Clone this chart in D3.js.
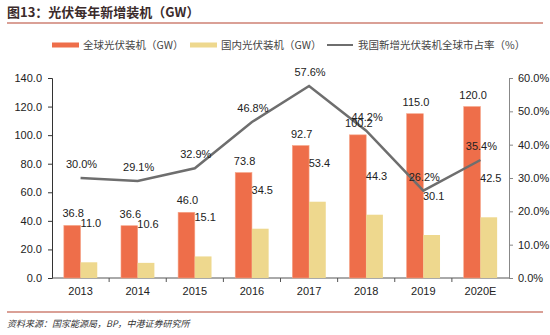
<!DOCTYPE html>
<html>
<head>
<meta charset="utf-8">
<script src="https://cdn.jsdelivr.net/npm/d3@7"></script>
<style>
  body { margin: 0; background: #fff; }
  svg { font-family: "Liberation Sans", Arial, "Noto Sans CJK SC", sans-serif; }
</style>
</head>
<body>
<svg id="chart" width="550" height="335"></svg>
<script>
const years = ["2013", "2014", "2015", "2016", "2017", "2018", "2019", "2020E"];
const globalGW = [36.8, 36.6, 46.0, 73.8, 92.7, 100.2, 115.0, 120.0];
const chinaGW = [11.0, 10.6, 15.1, 34.5, 53.4, 44.3, 30.1, 42.5];
const chinaShare = [30.0, 29.1, 32.9, 46.8, 57.6, 44.2, 26.2, 35.4];
const leftTicks = [0, 20, 40, 60, 80, 100, 120, 140];
const rightTicks = [0, 10, 20, 30, 40, 50, 60];
const seriesNames = ["全球光伏装机（GW）", "国内光伏装机（GW）", "我国新增光伏装机全球市占率（%）"];

const orange = "#ee6e4a";
const yellow = "#eed88e";
const grey = "#6e6e6e";
const cjk = "'Noto Sans CJK SC', sans-serif";

let svg = d3.select("#chart");

const plotLeft = 52;
const plotRight = 509;
const plotTop = 78;
const plotBottom = 278;

// title + rules
svg
  .append("text")
  .text("图13：光伏每年新增装机（GW）")
  .attr("x", 7)
  .attr("y", 17)
  .attr("font-family", cjk)
  .attr("font-size", 13)
  .attr("font-weight", "bold")
  .attr("fill", "#3b2b2b");
svg
  .append("line")
  .attr("x1", 7)
  .attr("x2", 543)
  .attr("y1", 23)
  .attr("y2", 23)
  .attr("stroke", "#b5432e")
  .attr("stroke-width", 1.2);
svg
  .append("line")
  .attr("x1", 7)
  .attr("x2", 543)
  .attr("y1", 312)
  .attr("y2", 312)
  .attr("stroke", "#b5432e")
  .attr("stroke-width", 1.2);
svg
  .append("text")
  .text("资料来源：国家能源局，BP，中港证券研究所")
  .attr("x", 7)
  .attr("y", 327)
  .attr("font-family", cjk)
  .attr("font-size", 9)
  .attr("font-style", "italic")
  .attr("fill", "#333");

// scales
let x = d3.scaleBand().domain(years).range([plotLeft, plotRight]);
let xInner = d3.scaleBand().domain(["g", "c"]).range([0, x.bandwidth()]).paddingInner(0).paddingOuter(0.71);
let yLeft = d3.scaleLinear().domain([0, 140]).range([plotBottom, plotTop]);
let yRight = d3.scaleLinear().domain([0, 60]).range([plotBottom, plotTop]);

// axes
let leftAxis = svg
  .append("g")
  .attr("transform", `translate(${plotLeft},0)`)
  .call(d3.axisLeft(yLeft).tickValues(leftTicks).tickFormat(d3.format(".1f")).tickSize(4).tickPadding(6));
leftAxis.select(".domain").attr("stroke", "#333");
leftAxis.selectAll(".tick line").attr("stroke", "#333");
leftAxis.selectAll("text").attr("font-size", 11).attr("fill", "#222").attr("font-family", "'Liberation Sans', Arial");

let rightAxis = svg
  .append("g")
  .attr("transform", `translate(${plotRight},0)`)
  .call(d3.axisRight(yRight).tickValues(rightTicks).tickFormat(d => d.toFixed(1) + "%").tickSize(4).tickPadding(5));
rightAxis.select(".domain").attr("stroke", "#888");
rightAxis.selectAll(".tick line").attr("stroke", "#888");
rightAxis.selectAll("text").attr("font-size", 11).attr("fill", "#222").attr("font-family", "'Liberation Sans', Arial");

// bottom axis: ticks at category boundaries
let bottom = svg.append("g");
bottom
  .append("line")
  .attr("x1", plotLeft)
  .attr("x2", plotRight)
  .attr("y1", plotBottom)
  .attr("y2", plotBottom)
  .attr("stroke", "#555");
bottom
  .selectAll(".sep")
  .data(years.slice(1))
  .join("line")
  .attr("x1", d => x(d))
  .attr("x2", d => x(d))
  .attr("y1", plotBottom)
  .attr("y2", plotBottom + 4)
  .attr("stroke", "#555");
bottom
  .selectAll(".cat")
  .data(years)
  .join("text")
  .text(d => d)
  .attr("x", d => x(d) + x.bandwidth() / 2)
  .attr("y", plotBottom + 17)
  .attr("text-anchor", "middle")
  .attr("font-size", 11)
  .attr("fill", "#222");

// bars
svg
  .selectAll(".barG")
  .data(years)
  .join("rect")
  .attr("x", d => x(d) + xInner("g"))
  .attr("y", (d, i) => yLeft(globalGW[i]))
  .attr("width", xInner.bandwidth())
  .attr("height", (d, i) => plotBottom - yLeft(globalGW[i]))
  .attr("fill", orange)
  .attr("stroke", "#f6a487")
  .attr("stroke-width", 0.6);
svg
  .selectAll(".barC")
  .data(years)
  .join("rect")
  .attr("x", d => x(d) + xInner("c"))
  .attr("y", (d, i) => yLeft(chinaGW[i]))
  .attr("width", xInner.bandwidth())
  .attr("height", (d, i) => plotBottom - yLeft(chinaGW[i]))
  .attr("fill", yellow);

// line
let line = d3
  .line()
  .x((d, i) => x(years[i]) + x.bandwidth() / 2)
  .y(d => yRight(d));
svg
  .append("path")
  .datum(chinaShare)
  .attr("d", line)
  .attr("fill", "none")
  .attr("stroke", grey)
  .attr("stroke-width", 2.5);

// value labels
svg
  .selectAll(".lblG")
  .data(years)
  .join("text")
  .text((d, i) => globalGW[i].toFixed(1))
  .attr("x", d => x(d) + xInner("g") + xInner.bandwidth() / 2 + 1)
  .attr("y", (d, i) => yLeft(globalGW[i]) - 8)
  .attr("text-anchor", "middle")
  .attr("font-size", 11)
  .attr("fill", "#222");
svg
  .selectAll(".lblC")
  .data(years)
  .join("text")
  .text((d, i) => chinaGW[i].toFixed(1))
  .attr("x", d => x(d) + xInner("c") + xInner.bandwidth() / 2 + 2)
  .attr("y", (d, i) => yLeft(chinaGW[i]) - 35)
  .attr("text-anchor", "middle")
  .attr("font-size", 11)
  .attr("fill", "#222");
svg
  .selectAll(".lblS")
  .data(years)
  .join("text")
  .text((d, i) => chinaShare[i].toFixed(1) + "%")
  .attr("x", d => x(d) + x.bandwidth() / 2 + 1)
  .attr("y", (d, i) => yRight(chinaShare[i]) - 10)
  .attr("text-anchor", "middle")
  .attr("font-size", 11)
  .attr("fill", "#222");

// legend
const legendY = 45;
const legendItems = [
  { x: 52, name: seriesNames[0], color: orange, type: "rect" },
  { x: 190, name: seriesNames[1], color: yellow, type: "rect" },
  { x: 327, name: seriesNames[2], color: grey, type: "line" },
];
let legend = svg.selectAll(".legend").data(legendItems).join("g");
legend
  .filter(d => d.type === "rect")
  .append("rect")
  .attr("x", d => d.x)
  .attr("y", legendY - 2.5)
  .attr("width", 27)
  .attr("height", 5)
  .attr("fill", d => d.color);
legend
  .filter(d => d.type === "line")
  .append("line")
  .attr("x1", d => d.x)
  .attr("x2", d => d.x + 26)
  .attr("y1", legendY)
  .attr("y2", legendY)
  .attr("stroke", d => d.color)
  .attr("stroke-width", 2);
legend
  .append("text")
  .text(d => d.name)
  .attr("x", d => d.x + 31)
  .attr("y", legendY + 4)
  .attr("font-family", cjk)
  .attr("font-size", 10.5)
  .attr("fill", "#444");
</script>
</body>
</html>
